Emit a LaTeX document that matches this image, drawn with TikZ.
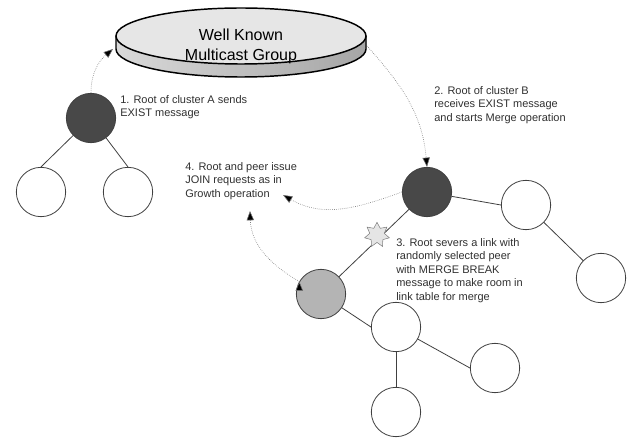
\documentclass[tikz,border=0pt]{standalone}
\usepackage{fontspec}
\setmainfont{Liberation Sans}
\usetikzlibrary{arrows.meta}
\usetikzlibrary{shapes.geometric}

\definecolor{rootgray}{HTML}{484848}
\definecolor{joingray}{HTML}{B4B4B4}
\definecolor{linegray}{HTML}{404040}
\definecolor{msggray}{HTML}{707070}
\definecolor{notegray}{HTML}{303030}
\definecolor{disctop}{HTML}{E6E6E6}

\begin{document}
\begin{tikzpicture}[x=0.75pt,y=0.75pt,
		member/.style={circle,draw=linegray,line width=0.6pt,minimum size=37pt,inner sep=0pt,fill=white},
		root/.style={member,fill=rootgray},
		newpeer/.style={member,fill=joingray},
		link/.style={draw=linegray,line width=0.6pt},
		msg/.style={draw=msggray,densely dotted,line width=0.45pt,-{Triangle[length=7pt,width=5.5pt,fill=black]}},
		note/.style={anchor=north west,align=left,inner sep=0pt,text=notegray,font=\fontsize{8.25}{10.1}\selectfont}]
			\useasboundingbox (0,0) rectangle (628,-438);

			\fill[left color=gray!30,right color=gray!70] (116,-36) -- (116,-49) arc[start angle=180,end angle=360,x radius=125,y radius=28] -- (366,-36) -- cycle;
			\draw[line width=1.1pt] (116,-36) -- (116,-49) arc[start angle=180,end angle=360,x radius=125,y radius=28] -- (366,-36);
			\node[ellipse,draw,line width=1.1pt,fill=disctop,minimum width=187.5pt,minimum height=42pt,inner sep=0pt] (group) at (241,-36) {};
			\node[font=\fontsize{12}{15}\selectfont,align=center] (title) at (241,-46) {Well Known\\Multicast Group};
			\coordinate (discW) at (113,-49);
			\coordinate (discE) at (367,-46);

			\node[root] (rootA) at (91,-118) {};
			\node[member] (childA1) at (41,-192) {};
			\node[member] (childA2) at (128,-192) {};
			\node[root] (rootB) at (427,-192) {};
			\node[member] (childB1) at (526,-205) {};
			\node[member] (childB2) at (601,-278) {};
			\node[newpeer] (peerB) at (321,-294) {};
			\node[member] (childP1) at (396,-327) {};
			\node[member] (childP2) at (495,-368) {};
			\node[member] (childP3) at (396,-412) {};
			\coordinate (joinTip) at (283,-195);
			\coordinate (peerTip) at (250,-211);

			\path[link]
			(rootA) edge (childA1.north)
					edge (childA2.north)
			(rootB) edge (childB1.west)
					edge (peerB)
			(childB1) edge (childB2)
			(peerB) edge (childP1.west)
			(childP1) edge (childP2.west)
					  edge (childP3)
			;
			\node[star,star points=7,star point ratio=1.7,minimum size=19pt,inner sep=0pt,draw=gray,fill=gray!20] (severed) at (377,-235) {};

			\path[msg]
			(rootA.north) edge[out=90,in=220] (discW)
			(discE) edge[out=-48,in=95] (rootB.north)
			(rootB.west) edge[out=200,in=-30] (joinTip)
			(peerB.150) edge[out=150,in=-88] (peerTip)
			;

			\node[note] (noteA) at (120,-95) {1. Root of cluster A sends\\EXIST message};
			\node[note] (noteB) at (434,-86) {2. Root of cluster B\\receives EXIST message\\and starts Merge operation};
			\node[note] (noteBreak) at (396,-238) {3. Root severs a link with\\randomly selected peer\\with MERGE BREAK\\message to make room in\\link table for merge};
			\node[note] (noteJoin) at (185,-162) {4. Root and peer issue\\JOIN requests as in\\Growth operation};
		\end{tikzpicture}
\end{document}
